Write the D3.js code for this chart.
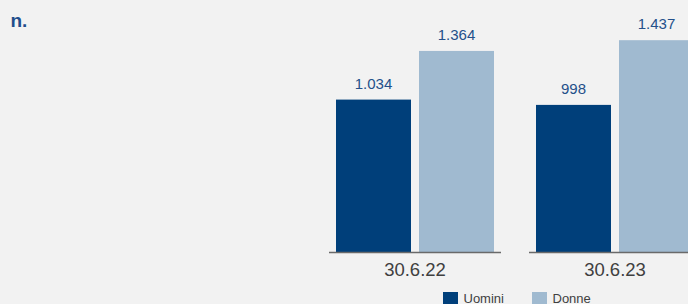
<!DOCTYPE html>
<html>
<head>
<meta charset="utf-8">
<script src="https://cdn.jsdelivr.net/npm/d3@7"></script>
<style>
  html, body { margin: 0; padding: 0; background: #f2f2f2; }
  svg { display: block; font-family: "Liberation Sans", Arial, sans-serif; }
</style>
</head>
<body>
<div id="root"></div>
<script>
const categories = ["30.6.22", "30.6.23"];
const seriesNames = ["Uomini", "Donne"];
const uomini = [1034, 998];
const donne = [1364, 1437];
const valueLabels = [["1.034", "1.364"], ["998", "1.437"]];

const width = 688;
const height = 304;
const baseline = 252;
const pxPerUnit = 0.1474;

const colors = d3.scaleOrdinal()
  .domain(seriesNames)
  .range(["#003f7a", "#a0bad0"]);

const svg = d3.select("#root")
  .append("svg")
    .attr("width", width)
    .attr("height", height);

// unit title
svg.append("text")
  .text("n.")
  .attr("x", 10.5)
  .attr("y", 27)
  .attr("fill", "#1f4e8c")
  .style("font-weight", "bold")
  .style("font-size", "19px");

const xScale = d3.scaleBand()
  .domain(categories)
  .range([315, 715]);

const inner = d3.scaleBand()
  .domain(seriesNames)
  .range([21, 179])
  .paddingInner(0.0964);

const yScale = d3.scaleLinear()
  .domain([0, baseline / pxPerUnit])
  .range([baseline, 0]);

const rows = categories.map((c, i) => ({
  cat: c,
  values: [
    { name: "Uomini", value: uomini[i], label: valueLabels[i][0] },
    { name: "Donne", value: donne[i], label: valueLabels[i][1] }
  ]
}));

const groups = svg.selectAll("g.group")
  .data(rows)
  .enter()
  .append("g")
    .attr("class", "group")
    .attr("transform", d => `translate(${xScale(d.cat)}, 0)`);

groups.selectAll("rect")
  .data(d => d.values)
  .enter()
  .append("rect")
    .attr("x", d => inner(d.name))
    .attr("y", d => yScale(d.value))
    .attr("width", inner.bandwidth())
    .attr("height", d => yScale(0) - yScale(d.value))
    .attr("fill", d => colors(d.name));

groups.selectAll("text.val")
  .data(d => d.values)
  .enter()
  .append("text")
    .attr("class", "val")
    .text(d => d.label)
    .attr("x", d => inner(d.name) + inner.bandwidth() / 2)
    .attr("y", d => yScale(d.value) - 11)
    .attr("text-anchor", "middle")
    .attr("fill", "#24508a")
    .style("font-size", "15px");

// baseline segment per category
groups.append("line")
  .attr("x1", 14)
  .attr("x2", xScale.bandwidth() - 14)
  .attr("y1", baseline + 0.5)
  .attr("y2", baseline + 0.5)
  .attr("stroke", "#6a6a6a")
  .attr("stroke-width", 1.5);

groups.append("text")
  .text(d => d.cat)
  .attr("x", xScale.bandwidth() / 2)
  .attr("y", 276)
  .attr("text-anchor", "middle")
  .attr("fill", "#404040")
  .style("font-size", "18.5px");

// legend
const legendX = [443, 532];
const legend = svg.selectAll("g.legend")
  .data(seriesNames)
  .enter()
  .append("g")
    .attr("class", "legend")
    .attr("transform", (d, i) => `translate(${legendX[i]}, 292)`);

legend.append("rect")
  .attr("width", 15)
  .attr("height", 15)
  .attr("fill", d => colors(d));

legend.append("text")
  .text(d => d)
  .attr("x", 20.5)
  .attr("y", 10.5)
  .attr("fill", "#404040")
  .style("font-size", "13px");
</script>
</body>
</html>
